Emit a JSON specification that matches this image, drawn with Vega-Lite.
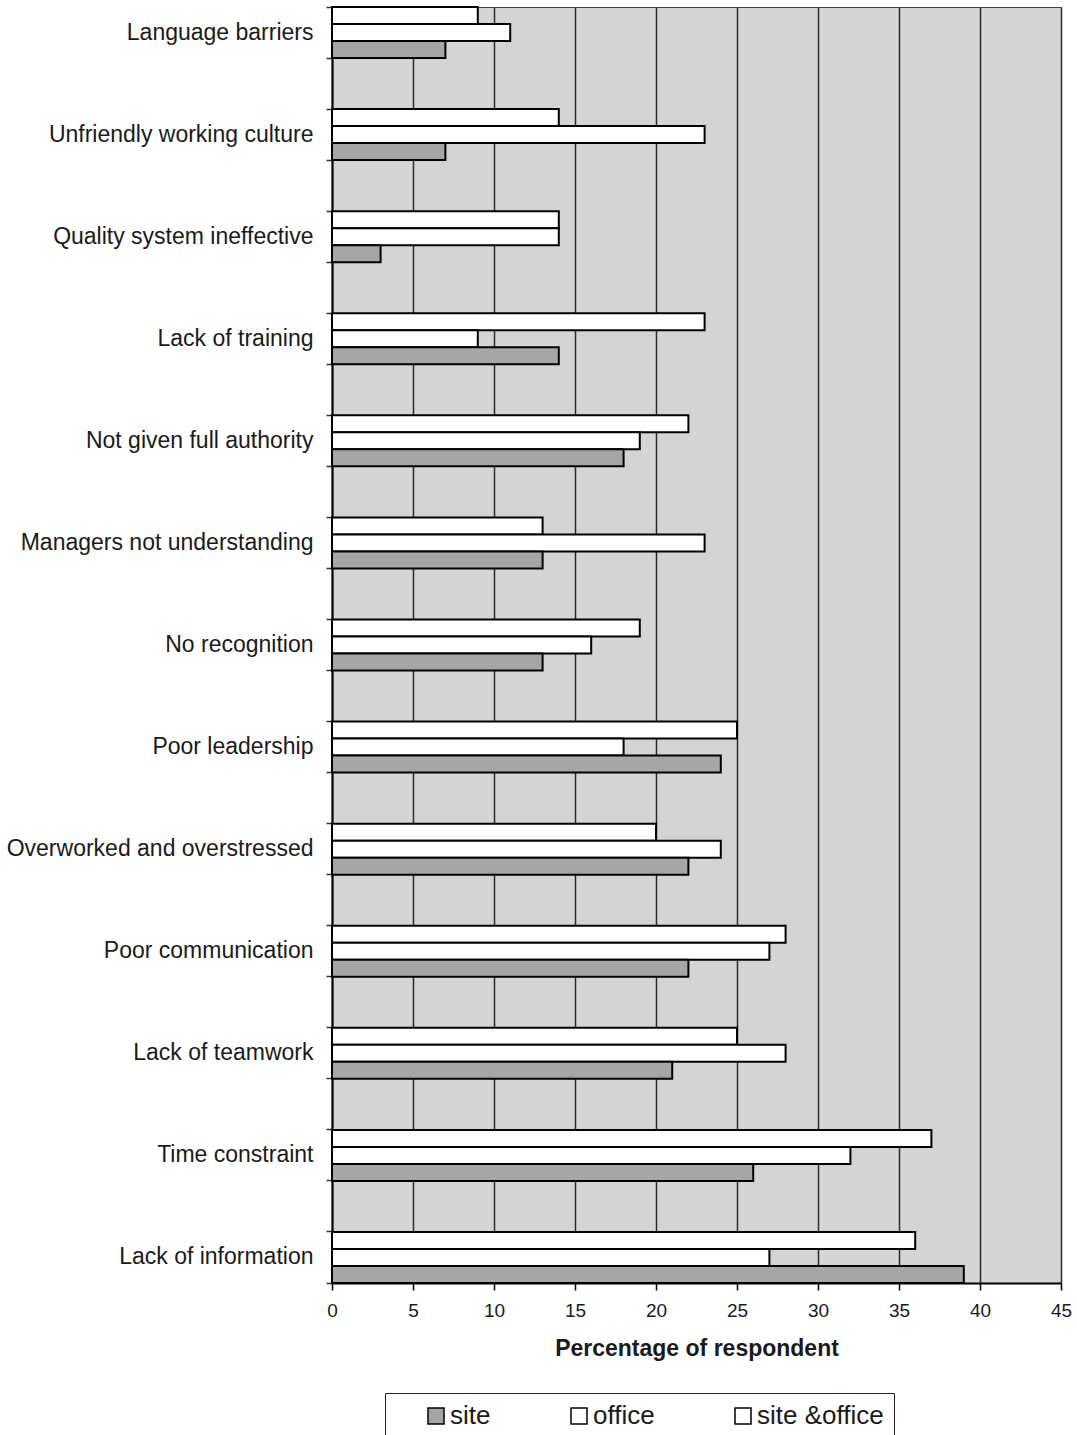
{
  "$schema": "https://vega.github.io/schema/vega-lite/v6.json",
  "width": 729,
  "height": 1276,
  "autosize": "none",
  "padding": {"left": 332, "top": 7, "right": 16, "bottom": 152},
  "background": "white",
  "config": {
    "font": "Liberation Sans",
    "view": {"fill": "#d4d4d4", "stroke": "#444444", "strokeWidth": 1}
  },
  "data": {
    "values": [
      {"cause": "Language barriers", "group": "site &office", "value": 9},
      {"cause": "Language barriers", "group": "office", "value": 11},
      {"cause": "Language barriers", "group": "site", "value": 7},
      {"cause": "Unfriendly working culture", "group": "site &office", "value": 14},
      {"cause": "Unfriendly working culture", "group": "office", "value": 23},
      {"cause": "Unfriendly working culture", "group": "site", "value": 7},
      {"cause": "Quality system ineffective", "group": "site &office", "value": 14},
      {"cause": "Quality system ineffective", "group": "office", "value": 14},
      {"cause": "Quality system ineffective", "group": "site", "value": 3},
      {"cause": "Lack of training", "group": "site &office", "value": 23},
      {"cause": "Lack of training", "group": "office", "value": 9},
      {"cause": "Lack of training", "group": "site", "value": 14},
      {"cause": "Not given full authority", "group": "site &office", "value": 22},
      {"cause": "Not given full authority", "group": "office", "value": 19},
      {"cause": "Not given full authority", "group": "site", "value": 18},
      {"cause": "Managers not understanding", "group": "site &office", "value": 13},
      {"cause": "Managers not understanding", "group": "office", "value": 23},
      {"cause": "Managers not understanding", "group": "site", "value": 13},
      {"cause": "No recognition", "group": "site &office", "value": 19},
      {"cause": "No recognition", "group": "office", "value": 16},
      {"cause": "No recognition", "group": "site", "value": 13},
      {"cause": "Poor leadership", "group": "site &office", "value": 25},
      {"cause": "Poor leadership", "group": "office", "value": 18},
      {"cause": "Poor leadership", "group": "site", "value": 24},
      {"cause": "Overworked and overstressed", "group": "site &office", "value": 20},
      {"cause": "Overworked and overstressed", "group": "office", "value": 24},
      {"cause": "Overworked and overstressed", "group": "site", "value": 22},
      {"cause": "Poor communication", "group": "site &office", "value": 28},
      {"cause": "Poor communication", "group": "office", "value": 27},
      {"cause": "Poor communication", "group": "site", "value": 22},
      {"cause": "Lack of teamwork", "group": "site &office", "value": 25},
      {"cause": "Lack of teamwork", "group": "office", "value": 28},
      {"cause": "Lack of teamwork", "group": "site", "value": 21},
      {"cause": "Time constraint", "group": "site &office", "value": 37},
      {"cause": "Time constraint", "group": "office", "value": 32},
      {"cause": "Time constraint", "group": "site", "value": 26},
      {"cause": "Lack of information", "group": "site &office", "value": 36},
      {"cause": "Lack of information", "group": "office", "value": 27},
      {"cause": "Lack of information", "group": "site", "value": 39}
    ]
  },
  "layer": [
    {
      "mark": {"type": "bar", "stroke": "black", "strokeWidth": 2},
      "encoding": {
        "y": {
          "field": "cause",
          "type": "nominal",
          "sort": ["Language barriers", "Unfriendly working culture", "Quality system ineffective", "Lack of training", "Not given full authority", "Managers not understanding", "No recognition", "Poor leadership", "Overworked and overstressed", "Poor communication", "Lack of teamwork", "Time constraint", "Lack of information"],
          "scale": {"paddingInner": 0.5, "paddingOuter": 0},
          "axis": {
            "title": null,
            "orient": "left",
            "ticks": false,
            "domain": true,
            "domainColor": "black",
            "domainWidth": 2,
            "labelFontSize": 23,
            "labelColor": "#1a1a1a",
            "labelPadding": 19,
            "labelLimit": 400
          }
        },
        "yOffset": {
          "field": "group",
          "sort": ["site &office", "office", "site"],
          "scale": {"paddingInner": 0, "paddingOuter": 0}
        },
        "x": {
          "field": "value",
          "type": "quantitative",
          "scale": {"domain": [0, 45], "nice": false},
          "axis": {
            "values": [0, 5, 10, 15, 20, 25, 30, 35, 40, 45],
            "grid": true,
            "gridColor": "#2a2a2a",
            "gridWidth": 1.5,
            "domainColor": "black",
            "domainWidth": 2,
            "tickColor": "black",
            "tickSize": 7,
            "tickWidth": 1.5,
            "labelFontSize": 19,
            "labelColor": "#1a1a1a",
            "labelFlush": false,
            "labelPadding": 11,
            "title": "Percentage of respondent",
            "titleFontSize": 23,
            "titleFontWeight": "bold",
            "titleColor": "#1a1a1a",
            "titlePadding": 17
          }
        },
        "fill": {
          "field": "group",
          "type": "nominal",
          "scale": {"domain": ["site", "office", "site &office"], "range": ["#a6a6a6", "#ffffff", "#ffffff"]},
          "legend": {
            "title": "\u00a0",
            "titleOrient": "left",
            "titleFontSize": 1,
            "titlePadding": 28,
            "orient": "none",
            "legendX": 53,
            "legendY": 1386,
            "direction": "horizontal",
            "columns": 3,
            "symbolType": "square",
            "symbolSize": 256,
            "symbolStrokeColor": "black",
            "symbolStrokeWidth": 1.5,
            "labelFontSize": 26,
            "labelColor": "#1a1a1a",
            "labelOffset": 1,
            "columnPadding": 75,
            "padding": 10,
            "strokeColor": "#222222",
            "fillColor": "white"
          }
        }
      }
    },
    {
      "mark": {"type": "bar", "opacity": 0},
      "encoding": {
        "y": {
          "field": "cause",
          "type": "nominal",
          "sort": ["Language barriers", "Unfriendly working culture", "Quality system ineffective", "Lack of training", "Not given full authority", "Managers not understanding", "No recognition", "Poor leadership", "Overworked and overstressed", "Poor communication", "Lack of teamwork", "Time constraint", "Lack of information"],
          "scale": {"paddingInner": 0.5, "paddingOuter": 0},
          "axis": {"title": null, "orient": "left", "labels": false, "domain": false, "grid": false, "ticks": true, "tickSize": 6, "tickColor": "#333333", "tickWidth": 1.5, "bandPosition": 0}
        }
      }
    },
    {
      "mark": {"type": "bar", "opacity": 0},
      "encoding": {
        "y": {
          "field": "cause",
          "type": "nominal",
          "sort": ["Language barriers", "Unfriendly working culture", "Quality system ineffective", "Lack of training", "Not given full authority", "Managers not understanding", "No recognition", "Poor leadership", "Overworked and overstressed", "Poor communication", "Lack of teamwork", "Time constraint", "Lack of information"],
          "scale": {"paddingInner": 0.5, "paddingOuter": 0},
          "axis": {"title": null, "orient": "left", "labels": false, "domain": false, "grid": false, "ticks": true, "tickSize": 6, "tickColor": "#333333", "tickWidth": 1.5, "bandPosition": 1}
        }
      }
    }
  ],
  "resolve": {"axis": {"y": "independent"}}
}
